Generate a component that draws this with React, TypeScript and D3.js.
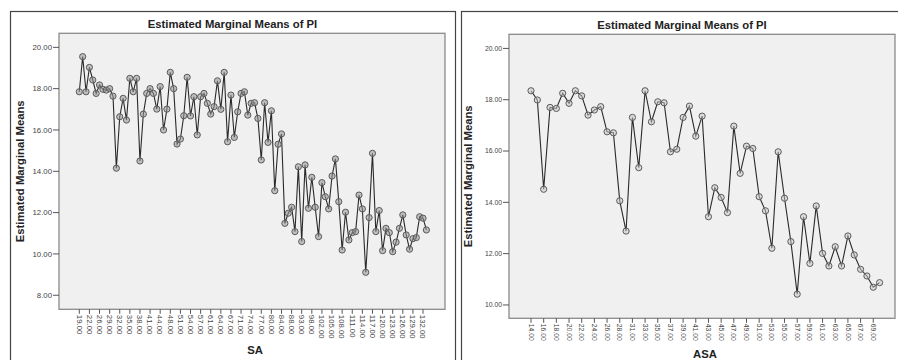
import React from 'react';
import * as d3 from 'd3';

const saCategories = [19,20,21,22,23,24,26,27,28,29,30,31,32,33,34,35,36,37,38,39,40,41,42,43,44,45,46,48,49,50,51,52,53,54,55,56,57,58,59,61,62,63,64,65,66,67,68,69,71,72,73,74,75,76,77,78,79,80,81,82,84,85,86,88,89,90,93,94,96,98,99,100,102,103,104,105,106,107,108,109,110,111,112,113,114,115,116,117,118,119,120,121,122,123,124,125,126,127,128,129,130,131,132,133];
const saValues = [17.85,19.55,17.85,19.03,18.42,17.77,18.18,17.97,17.93,18.0,17.64,14.15,16.64,17.53,16.48,18.5,17.85,18.5,14.5,16.77,17.77,18.0,17.77,17.01,18.1,16.0,17.01,18.79,18.0,15.32,15.56,16.69,18.55,16.68,17.61,15.76,17.61,17.77,17.29,16.77,17.13,18.38,17.0,18.79,15.43,17.69,15.64,16.88,17.77,17.85,16.72,17.29,17.32,16.56,14.55,17.32,15.4,16.93,13.06,15.31,15.81,11.48,11.97,12.26,11.08,14.22,10.6,14.31,12.21,13.71,12.26,10.84,13.45,12.77,12.18,13.77,14.6,12.53,10.19,12.02,10.68,11.03,11.08,12.85,12.18,9.11,11.76,14.87,11.08,12.1,10.16,11.24,11.03,10.11,10.57,11.24,11.89,10.92,10.23,10.74,10.79,11.8,11.73,11.16];
const saYTicks = [8,10,12,14,16,18,20];

const asaCategories = [14,15,16,17,18,19,20,21,22,23,24,25,26,27,28,30,31,32,33,34,35,36,37,38,39,40,41,42,43,44,45,46,47,48,49,50,51,52,53,54,55,56,57,58,59,60,61,62,63,64,65,66,67,68,69,70];
const asaValues = [18.35,17.99,14.51,17.7,17.66,18.25,17.86,18.35,18.15,17.4,17.6,17.73,16.75,16.71,14.06,12.88,17.31,15.35,18.35,17.14,17.92,17.88,15.97,16.07,17.31,17.75,16.58,17.36,13.44,14.57,14.19,13.6,16.97,15.13,16.19,16.1,14.22,13.67,12.21,15.97,14.16,12.47,10.42,13.44,11.62,13.86,12.01,11.52,12.27,11.52,12.69,11.95,11.39,11.13,10.69,10.87];
const asaYTicks = [10,12,14,16,18,20];

const TITLE = 'Estimated Marginal Means of PI';
const Y_TITLE = 'Estimated Marginal Means';
const FONT = '"Liberation Sans", Arial, sans-serif';
const fmt = d3.format('.2f');

type PanelProps = {
  frame: [number, number];
  plot: { l: number; r: number; t: number; b: number };
  xRange: [number, number];
  yDomain: [number, number];
  categories: number[];
  values: number[];
  yTicks: number[];
  labelEvery: number;
  xTitle: string;
  tickFont: number;
  titleY: number;
  xTitleY: number;
  yTitleX: number;
  markerFill: string;
};

function Panel(p: PanelProps) {
  const x = d3.scalePoint<number>().domain(p.categories).range(p.xRange);
  const y = d3.scaleLinear().domain(p.yDomain).range([p.plot.b, p.plot.t]);
  const line = d3
    .line<number>()
    .x((_, i) => x(p.categories[i]) as number)
    .y((d) => y(d));
  const cx = (p.frame[0] + p.frame[1]) / 2;
  const pcx = (p.plot.l + p.plot.r) / 2;
  const pcy = (p.plot.t + p.plot.b) / 2;
  const labeled = p.categories.filter((_, i) => i % p.labelEvery === 0);
  return (
    <g fontFamily={FONT}>
      <rect x={p.frame[0] + 0.5} y={11.5} width={p.frame[1] - p.frame[0]} height={380} fill="#fff" stroke="#444" strokeWidth={1.2} />
      <text x={cx} y={p.titleY} textAnchor="middle" fontWeight="bold" fontSize={11.3} fill="#222">{TITLE}</text>
      <rect x={p.plot.l} y={p.plot.t} width={p.plot.r - p.plot.l} height={p.plot.b - p.plot.t} fill="#f0f0f0" stroke="#8a8a8a" strokeWidth={1.3} />
      {p.yTicks.map((t) => (
        <g key={t}>
          <line x1={p.plot.l - 6} x2={p.plot.l} y1={y(t)} y2={y(t)} stroke="#555" strokeWidth={1} />
          <text x={p.plot.l - 7} y={y(t)} dy="0.35em" textAnchor="end" fontSize={p.tickFont} fill="#444">{fmt(t)}</text>
        </g>
      ))}
      {labeled.map((c) => (
        <g key={c}>
          <line x1={x(c)} x2={x(c)} y1={p.plot.b} y2={p.plot.b + 4.5} stroke="#555" strokeWidth={1} />
          <text transform={`translate(${x(c)},${p.plot.b + 5.5}) rotate(90)`} dy="0.35em" textAnchor="start" fontSize={p.tickFont} fill="#444">{fmt(c)}</text>
        </g>
      ))}
      <text transform={`translate(${p.yTitleX},${pcy}) rotate(-90)`} textAnchor="middle" fontWeight="bold" fontSize={11.3} fill="#222">{Y_TITLE}</text>
      <text x={pcx + 3} y={p.xTitleY} textAnchor="middle" fontWeight="bold" fontSize={11.3} fill="#222">{p.xTitle}</text>
      <path d={line(p.values) || ''} fill="none" stroke="#2a2a2a" strokeWidth={1.1} />
      {p.values.map((v, i) => (
        <circle key={i} cx={x(p.categories[i])} cy={y(v)} r={3.1} fill={p.markerFill} stroke="#5a5a5a" strokeWidth={1} />
      ))}
    </g>
  );
}

export default function App() {
  return (
    <div style={{ position: 'fixed', left: 0, top: 0 }}>
      <svg width={898} height={360} style={{ display: 'block', background: '#fff' }}>
        <Panel
          frame={[10, 455]}
          plot={{ l: 59, r: 445, t: 33.3, b: 309.3 }}
          xRange={[79.3, 426.4]}
          yDomain={[7.32, 20.68]}
          categories={saCategories}
          values={saValues}
          yTicks={saYTicks}
          labelEvery={3}
          xTitle="SA"
          tickFont={7.8}
          titleY={28}
          xTitleY={354}
          yTitleX={24}
          markerFill="rgba(150,150,150,0.55)"
        />
        <Panel
          frame={[461, 903]}
          plot={{ l: 509, r: 895, t: 34.3, b: 318.3 }}
          xRange={[531, 879.6]}
          yDomain={[9.48, 20.55]}
          categories={asaCategories}
          values={asaValues}
          yTicks={asaYTicks}
          labelEvery={2}
          xTitle="ASA"
          tickFont={6.8}
          titleY={29}
          xTitleY={358}
          yTitleX={472}
          markerFill="rgba(200,200,200,0.5)"
        />
      </svg>
    </div>
  );
}
